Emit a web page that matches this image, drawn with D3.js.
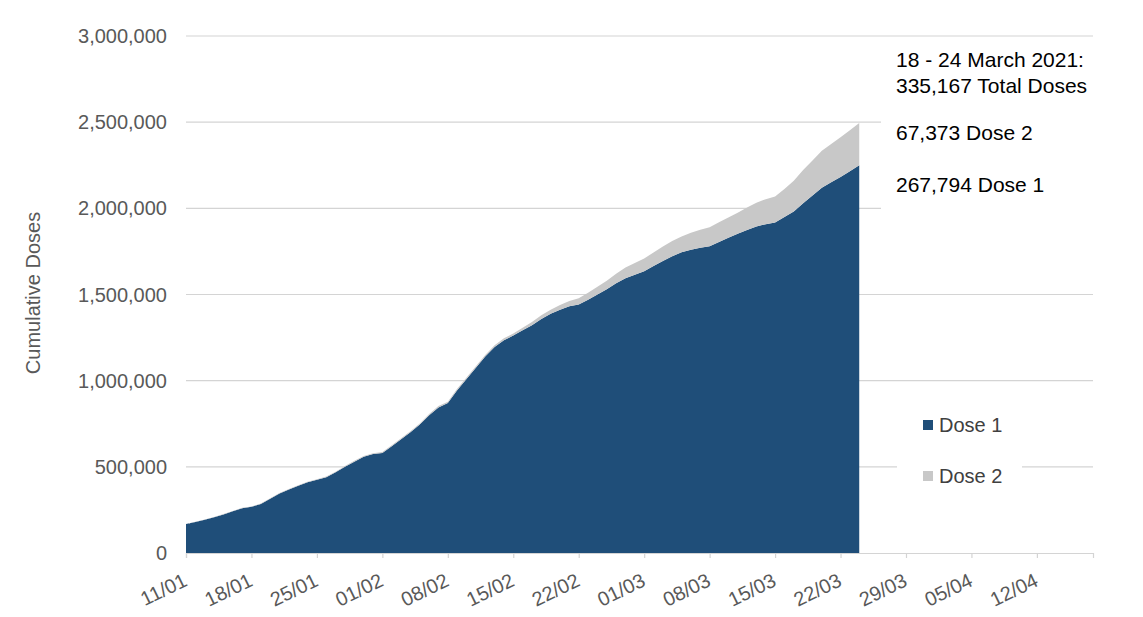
<!DOCTYPE html>
<html><head><meta charset="utf-8">
<script src="https://cdn.jsdelivr.net/npm/d3@7"></script>
<style>
body{margin:0;background:#fff}
svg{display:block}
text{font-family:"Liberation Sans",Arial,sans-serif}
</style>
</head><body>
<svg id="c" width="1143" height="617"></svg>
<script>
const dates = [
"2021-01-11","2021-01-12","2021-01-13","2021-01-14","2021-01-15","2021-01-16","2021-01-17",
"2021-01-18","2021-01-19","2021-01-20","2021-01-21","2021-01-22","2021-01-23","2021-01-24",
"2021-01-25","2021-01-26","2021-01-27","2021-01-28","2021-01-29","2021-01-30","2021-01-31",
"2021-02-01","2021-02-02","2021-02-03","2021-02-04","2021-02-05","2021-02-06","2021-02-07",
"2021-02-08","2021-02-09","2021-02-10","2021-02-11","2021-02-12","2021-02-13","2021-02-14",
"2021-02-15","2021-02-16","2021-02-17","2021-02-18","2021-02-19","2021-02-20","2021-02-21",
"2021-02-22","2021-02-23","2021-02-24","2021-02-25","2021-02-26","2021-02-27","2021-02-28",
"2021-03-01","2021-03-02","2021-03-03","2021-03-04","2021-03-05","2021-03-06","2021-03-07",
"2021-03-08","2021-03-09","2021-03-10","2021-03-11","2021-03-12","2021-03-13","2021-03-14",
"2021-03-15","2021-03-16","2021-03-17","2021-03-18","2021-03-19","2021-03-20","2021-03-21",
"2021-03-22","2021-03-23","2021-03-24"];

const dose1 = [
168000,180000,193000,208000,224000,242000,260000,
268000,285000,315000,345000,368000,390000,410000,
425000,440000,468000,500000,530000,558000,574000,
580000,620000,660000,700000,745000,800000,845000,
870000,945000,1010000,1075000,1140000,1195000,1235000,
1262000,1292000,1322000,1358000,1388000,1412000,1432000,
1442000,1470000,1500000,1530000,1565000,1595000,1615000,
1635000,1665000,1695000,1722000,1745000,1760000,1772000,
1780000,1805000,1830000,1852000,1875000,1895000,1908000,
1918000,1950000,1982000,2030000,2075000,2120000,2152000,
2182000,2215000,2250000];

const dose2 = [
1000,1000,1200,1400,1600,1800,2000,
2200,2400,2600,2800,3000,3200,3400,
3600,3800,4000,4300,4600,4900,5200,
5500,5800,6100,6400,6700,7000,7300,
7600,8000,8500,9000,9500,10000,11000,
12000,15000,18000,21000,24000,27000,31000,
36000,40000,45000,50000,55000,62000,68000,
74000,79000,84000,88000,92000,98000,104000,
110000,114000,117000,122000,130000,138000,145000,
150000,162000,178000,192000,203000,214000,222000,
230000,238000,245000];

const seriesNames = ["Dose 1","Dose 2"];
const seriesColors = ["#1f4e79","#c8c8c8"];
const yTicks = [0,500000,1000000,1500000,2000000,2500000,3000000];
const xTickLabels = ["11/01","18/01","25/01","01/02","08/02","15/02","22/02","01/03","08/03","15/03","22/03","29/03","05/04","12/04"];
const xDomainLabels = ["2021-01-11","2021-04-18"];
const annotationLines = ["18 - 24 March 2021:","335,167 Total Doses","67,373 Dose 2","267,794 Dose 1"];
const yTitle = "Cumulative Doses";

const svg = d3.select("#c");
const parse = d3.utcParse("%Y-%m-%d");
const parseTick = s => { const [d,m] = s.split("/"); return parse(`2021-${m}-${d}`); };

const x = d3.scaleUtc().domain(xDomainLabels.map(parse)).range([186, 1093]);
const y = d3.scaleLinear().domain([0, 3000000]).range([553, 36]);

const rows = dates.map((d,i) => ({date: parse(d), "Dose 1": dose1[i], "Dose 2": dose2[i]}));
const stack = d3.stack().keys(seriesNames)(rows);

// gridlines
svg.append("g").selectAll("line").data(yTicks.filter(v => v > 0)).join("line")
  .attr("x1", 186).attr("x2", 1093)
  .attr("y1", d => y(d)).attr("y2", d => y(d))
  .attr("stroke", "#d4d4d4").attr("stroke-width", 1.2);

// areas
const area = d3.area().x(d => x(d.data.date)).y0(d => y(d[0])).y1(d => y(d[1])).curve(d3.curveLinear);
svg.append("g").selectAll("path").data(stack).join("path")
  .attr("d", area)
  .attr("fill", (d,i) => seriesColors[i]);

// x axis
const xAxis = d3.axisBottom(x).tickValues(xTickLabels.map(parseTick)).tickSize(5).tickFormat(() => "");
const gx = svg.append("g").attr("transform", "translate(0,553)").call(xAxis);
gx.select(".domain").attr("stroke", "#d4d4d4").attr("stroke-width", 1.2);
gx.selectAll(".tick line").attr("stroke", "#d4d4d4").attr("stroke-width", 1.2);
svg.append("g").selectAll("text").data(xTickLabels).join("text")
  .attr("transform", d => `translate(${x(parseTick(d)) + 2.5},${585}) rotate(-26)`)
  .attr("text-anchor", "end")
  .attr("font-size", 20).attr("fill", "#595959")
  .text(d => d);

// y labels
const fmt = d3.format(",");
svg.append("g").selectAll("text").data(yTicks).join("text")
  .attr("x", 167).attr("y", d => y(d)).attr("dy", "0.35em")
  .attr("text-anchor", "end").attr("font-size", 20).attr("fill", "#595959")
  .text(d => fmt(d));

svg.append("text")
  .attr("transform", "translate(40,293) rotate(-90)")
  .attr("text-anchor", "middle").attr("font-size", 20).attr("fill", "#595959")
  .text(yTitle);

// annotation box
svg.append("rect").attr("x", 881).attr("y", 44).attr("width", 212).attr("height", 168).attr("fill", "#fff");
const annY = [67, 93, 140, 192];
svg.append("g").selectAll("text").data(annotationLines).join("text")
  .attr("x", 896).attr("y", (d,i) => annY[i])
  .attr("font-size", 21).attr("fill", "#000")
  .text(d => d);

// legend
svg.append("rect").attr("x", 897).attr("y", 405).attr("width", 125).attr("height", 90).attr("fill", "#fff");
const lg = svg.append("g").selectAll("g").data(seriesNames).join("g")
  .attr("transform", (d,i) => `translate(923,${420 + i*51})`);
lg.append("rect").attr("width", 10).attr("height", 10).attr("fill", (d,i) => seriesColors[i]);
lg.append("text").attr("x", 16).attr("y", 5).attr("dy", "0.35em")
  .attr("font-size", 20).attr("fill", "#404040").text(d => d);
</script>
</body></html>
